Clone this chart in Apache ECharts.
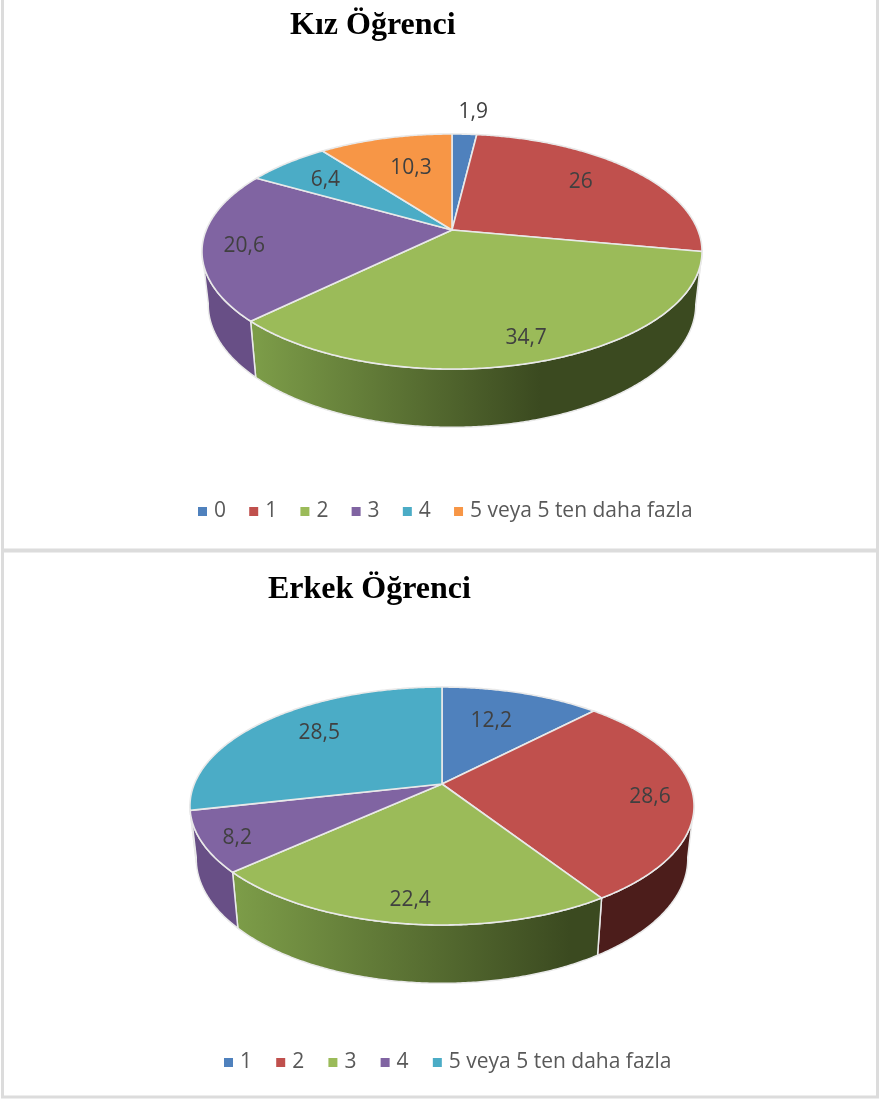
<!DOCTYPE html>
<html><head><meta charset="utf-8">
<style>
html,body{margin:0;padding:0;background:#fff;width:880px;height:1099px;overflow:hidden}
#c1{position:absolute;left:0;top:0;width:880px;height:550px}
#c2{position:absolute;left:0;top:550px;width:880px;height:549px}
</style>
<script src="https://cdn.jsdelivr.net/npm/echarts@6/dist/echarts.min.js"></script>
</head><body><div id="c1"></div><div id="c2"></div>
<script>
const girlCategories = ['0','1','2','3','4','5 veya 5 ten daha fazla'];
const girlValues = [1.9,26,34.7,20.6,6.4,10.3];
const girlLabels = ['1,9','26','34,7','20,6','6,4','10,3'];
const boyCategories = ['1','2','3','4','5 veya 5 ten daha fazla'];
const boyValues = [12.2,28.6,22.4,8.2,28.5];
const boyLabels = ['12,2','28,6','22,4','8,2','28,5'];

const girlColors = ['#4f81bd','#c0504d','#9bbb59','#8064a2','#4bacc6','#f79646'];
const boyColors = ['#4f81bd','#c0504d','#9bbb59','#8064a2','#4bacc6'];
const girlOffsets = [[11,-39],[-17,2],[7.5,7],[-9,4],[8,5],[14,14]];
const boyOffsets = [[-16,12],[8,4],[-2,9],[-16,8],[19,2]];

const RIM = '#e9e9e9';
const WALL_FROM = 100, WALL_TO = 260;

function wallFill(i, color, g, geo){
  if (color === '#9bbb59') {
    return {type:'linear', x:geo.gx0, y:0, x2:geo.gx1, y2:0, global:true,
      colorStops:[{offset:0,color:'#7c9c48'},{offset:1,color:'#3b4a20'}]};
  }
  if (color === '#c0504d') return '#4c1d1b';
  if (color === '#8064a2') return '#684f86';
  return '#2c6b7c';
}

function makeChart(dom, cats, vals, labels, colors, offsets, geo, title, legend){
  const total = vals.reduce((a,b)=>a+b,0);
  let cum = 0;
  const spans = vals.map(v=>{const s=cum/total*360; cum+=v; return [s,cum/total*360];});
  const project = (deg,f,lower) => {
    const r = deg*Math.PI/180, u = Math.sin(r), v = Math.cos(r), d = 1+geo.p*f*v;
    const x = geo.A*f*u/d, y = -geo.B*f*v/d;
    return lower ? [geo.cx+x*geo.sx, geo.cy+geo.dy+y*geo.sy] : [geo.cx+x, geo.cy+y];
  };
  const arc = (a,b,lower) => {
    const pts=[], n=Math.max(2,Math.ceil((b-a)*2));
    for(let k=0;k<=n;k++) pts.push(project(a+(b-a)*k/n,1,lower));
    return pts;
  };
  const series = cats.map((name,i)=>({
    type:'custom', name, coordinateSystem:'none', silent:true,
    itemStyle:{color:colors[i]},
    data:[[vals[i]]],
    renderItem(){
      const [a,b] = spans[i], children=[];
      const wa=Math.max(a,WALL_FROM), wb=Math.min(b,WALL_TO);
      if (wb>wa) {
        children.push({type:'polygon', z2:1,
          shape:{points:arc(wa,wb,false).concat(arc(wa,wb,true).reverse())},
          style:{fill:wallFill(i,colors[i],null,geo),stroke:RIM,lineWidth:1.5}});
      }
      children.push({type:'polygon', z2:10,
        shape:{points:[project(0,0,false)].concat(arc(a,b,false))},
        style:{fill:colors[i],stroke:RIM,lineWidth:1.6,lineJoin:'round'}});
      const m = project((a+b)/2,0.8,false);
      children.push({type:'text', z2:20, x:m[0]+offsets[i][0], y:m[1]+offsets[i][1],
        style:{text:labels[i],fill:'#404040',font:'21px "Open Sans"',align:'center',verticalAlign:'middle'}});
      return {type:'group',children};
    }
  }));
  const chart = echarts.init(dom,null,{renderer:'canvas'});
  chart.setOption({
    animation:false,
    color:colors,
    title:{text:title.text,left:title.left,top:title.top,padding:0,
      textStyle:{fontFamily:'Liberation Serif',fontWeight:'bold',fontSize:title.size,color:'#000'}},
    legend:{data:cats,left:legend.left,top:legend.top,padding:0,icon:'rect',itemWidth:9,itemHeight:9,
      itemGap:legend.gap,selectedMode:false,
      textStyle:{fontFamily:'Open Sans',fontSize:legend.size,color:'#595959',padding:[0,0,0,2]}},
    graphic:[{type:'rect',silent:true,z:-1,shape:geo.frame,style:{fill:'#fff',stroke:'#dcdcdc',lineWidth:3}}],
    series
  });
}

makeChart(document.getElementById('c1'),girlCategories,girlValues,girlLabels,girlColors,girlOffsets,
  {cx:452,cy:230,A:245.8,B:113.6,p:0.183,sx:0.975,sy:1.045,dy:52,gx0:257,gx1:540,frame:{x:2.5,y:-5,width:875,height:555}},
  {text:'Kız Öğrenci',left:290,top:10,size:32},{left:198,top:501,gap:23.2,size:21});
makeChart(document.getElementById('c2'),boyCategories,boyValues,boyLabels,boyColors,boyOffsets,
  {cx:442,cy:234,A:247.7,B:114.9,p:0.185,sx:0.975,sy:1.045,dy:52,gx0:238,gx1:570,frame:{x:2.5,y:1,width:875,height:546}},
  {text:'Erkek Öğrenci',left:268,top:24,size:32},{left:224,top:502,gap:24.2,size:21});
</script></body></html>
